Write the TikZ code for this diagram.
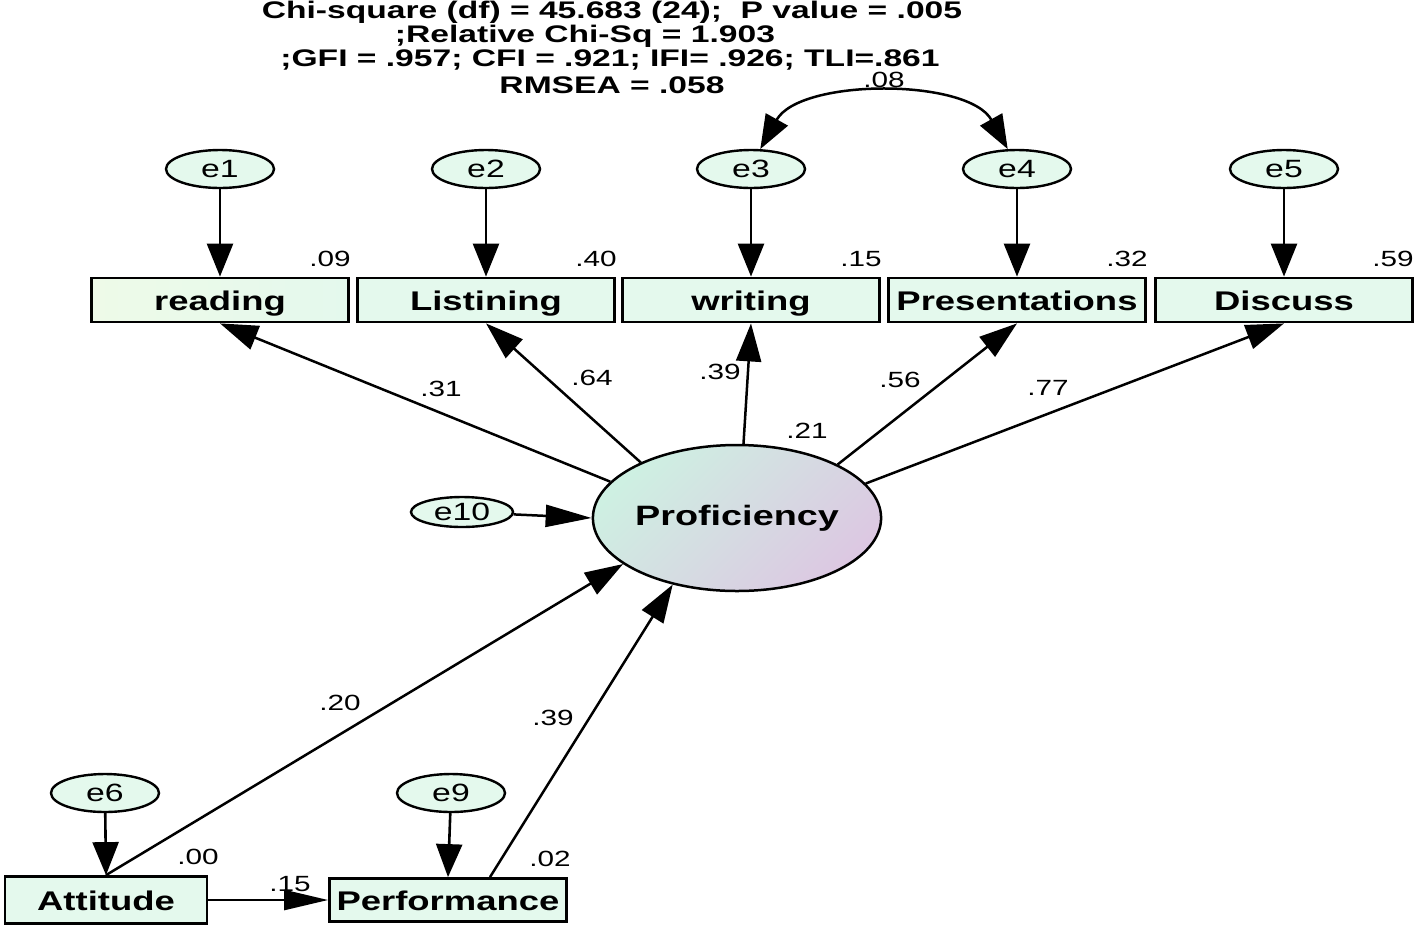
\documentclass[tikz,border=0pt]{standalone}
\usepackage{fontspec}
\setmainfont{Liberation Sans}
\usepackage{graphicx}
\usetikzlibrary{arrows.meta,shapes.geometric,calc}
\newcommand{\sx}[1]{\scalebox{1.35}[1]{#1}}
\newcommand{\sxt}[1]{\scalebox{1.4}[1]{#1}}
\definecolor{mint}{RGB}{228,249,237}
\definecolor{mintb}{RGB}{238,250,232}
\definecolor{profg}{RGB}{206,240,226}
\definecolor{profp}{RGB}{220,200,226}
\tikzset{
  obs/.style={draw, line width=2.8pt, fill=mint, minimum width=257pt, minimum height=44pt, inner sep=0pt,
    text height=22pt, text depth=2pt, font=\fontsize{27}{27}\selectfont\bfseries},
  err/.style={draw, ellipse, line width=2.4pt, fill=mint, minimum width=108pt, minimum height=38pt, inner sep=0pt,
    font=\fontsize{25}{25}\selectfont},
  num/.style={font=\fontsize{22}{22}\selectfont, inner sep=0pt},
  ttl/.style={font=\fontsize{24}{24}\selectfont\bfseries, inner sep=0pt},
  arr/.style={line width=2.5pt, -{Triangle[length=38pt,width=25pt]}},
  arrv/.style={line width=2.6pt, -{Triangle[length=33pt,width=26pt]}},
}
\begin{document}
\begin{tikzpicture}[x=1pt,y=-1pt]
\useasboundingbox (0,0) rectangle (1418,930);
% title
\node[ttl] (t1) at (612,12) {\sxt{Chi-square (df) = 45.683 (24);\ \ P value = .005}};
\node[ttl] (t2) at (585,36) {\sxt{;Relative Chi-Sq = 1.903}};
\node[ttl] (t3) at (610,60) {\sxt{;GFI = .957; CFI = .921; IFI= .926; TLI=.861}};
\node[ttl] (t4) at (612,85) {\sxt{RMSEA = .058}};
% observed boxes
\node[obs, left color=mintb, right color=mint] (read) at (220,300) {\sx{reading}};
\node[obs] (list) at (486,300) {\sx{Listining}};
\node[obs] (writ) at (751,300) {\sx{writing}};
\node[obs] (pres) at (1017,300) {\sx{Presentations}};
\node[obs] (disc) at (1284,300) {\sx{Discuss}};
% errors
\node[err] (e1) at (220,169) {\sx{e1}};
\node[err] (e2) at (486,169) {\sx{e2}};
\node[err] (e3) at (751,169) {\sx{e3}};
\node[err] (e4) at (1017,169) {\sx{e4}};
\node[err] (e5) at (1284,169) {\sx{e5}};
% latent
\node[draw, ellipse, line width=2.5pt, minimum width=268pt, minimum height=146pt, inner sep=0pt,
  top color=profg, bottom color=profp, shading angle=45,
  font=\fontsize{28}{28}\selectfont\bfseries] (prof) at (737,518) {\sx{Proficiency}};
\node[err, minimum width=102pt, minimum height=30pt] (e10) at (462,512) {\sx{e10}};
% lower
\node[obs, minimum width=202pt, minimum height=47pt] (att) at (106,900) {\sx{Attitude}};
\node[obs, minimum width=237pt, minimum height=43pt] (perf) at (448,900) {\sx{Performance}};
\node[err] (e6) at (105,793) {\sx{e6}};
\node[err] (e9) at (451,793) {\sx{e9}};
% error arrows
\draw[arrv] (e1) -- (read.north);
\draw[arrv] (e2) -- (list.north);
\draw[arrv] (e3) -- (writ.north);
\draw[arrv] (e4) -- (pres.north);
\draw[arrv] (e5) -- (disc.north);
\draw[arrv] (e6) -- (att.north);
\draw[arrv] (e9) -- (perf.north);
\draw[arr, -{Triangle[length=46pt,width=22pt]}] (e10) -- (prof.west);
% covariance
\draw[line width=2.5pt, {Triangle[length=34pt,width=25pt]}-{Triangle[length=34pt,width=25pt]}]
  (e3.65) .. controls (800,78) and (968,78) .. (e4.115);
% loadings
\draw[arr] (prof.164) -- (read.south);
\draw[arr] (prof.150) -- (list.south);
\draw[arr] (prof.85) -- (writ.south);
\draw[arr] (prof.28) -- (pres.south);
\draw[arr] (prof.15) -- (disc.south);
% structural
\draw[arr] (att.north) -- (prof.202);
\draw[arr] ([xshift=42pt]perf.north) -- (prof.226);
\draw[arr, -{Triangle[length=44pt,width=20pt]}] (att.east) -- (perf.west);
% numbers
\node[num] (n08) at (884,80) {\sx{.08}};
\node[num] (n09) at (330,259) {\sx{.09}};
\node[num] (n40) at (596,259) {\sx{.40}};
\node[num] (n15) at (861,259) {\sx{.15}};
\node[num] (n32) at (1127,259) {\sx{.32}};
\node[num] (n59) at (1393,259) {\sx{.59}};
\node[num] (n31) at (441,389) {\sx{.31}};
\node[num] (n64) at (592,378) {\sx{.64}};
\node[num] (n39a) at (720,372) {\sx{.39}};
\node[num] (n21) at (807,431) {\sx{.21}};
\node[num] (n56) at (900,380) {\sx{.56}};
\node[num] (n77) at (1048,388) {\sx{.77}};
\node[num] (n20) at (340,703) {\sx{.20}};
\node[num] (n39b) at (553,718) {\sx{.39}};
\node[num] (n00) at (198,857) {\sx{.00}};
\node[num] (n02) at (550,859) {\sx{.02}};
\node[num] (n15b) at (290,884) {\sx{.15}};
\end{tikzpicture}
\end{document}
